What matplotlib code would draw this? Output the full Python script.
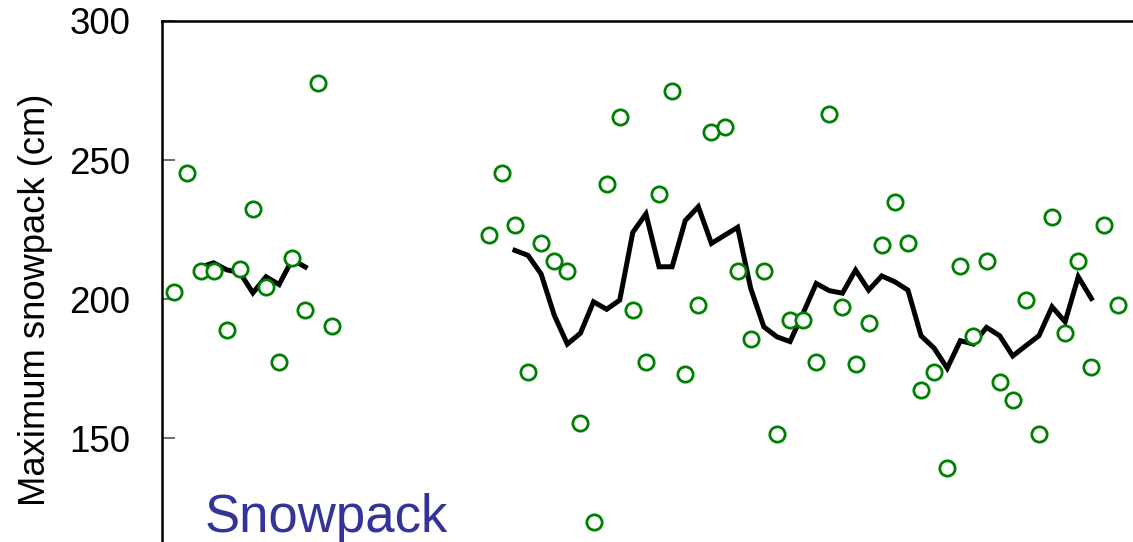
import matplotlib.pyplot as plt
import numpy as np

plt.rcParams['font.family'] = ['Liberation Sans', 'DejaVu Sans']

# Yearly maximum snowpack (cm), two observation periods
years_early = np.arange(1940, 1953)
snow_early = [202.6, 245.2, 210.1, 210.1, 188.8, 210.8, 232.3,
              204.5, 177.5, 214.6, 196.0, 277.8, 190.4]

years_late = np.arange(1964, 2013)
snow_late = [223.0, 245.2, 226.6, 173.7, 220.1, 213.8, 210.0, 155.3,
             119.8, 241.5, 265.6, 196.0, 177.4, 237.8, 274.9, 172.9,
             197.8, 260.1, 262.0, 210.0, 185.7, 210.0, 151.6, 192.4,
             192.4, 177.4, 266.7, 197.1, 176.6, 191.5, 219.3, 235.0,
             220.3, 167.3, 173.9, 139.3, 211.9, 186.8, 213.7, 170.1,
             163.7, 199.6, 151.4, 229.5, 187.7, 213.7, 175.6, 226.7,
             197.8]

# 5-year running mean (centred)
avg_years_early = years_early[2:-2]
avg_early = [211.5, 213.0, 210.5, 209.5, 202.2, 208.0, 205.2, 214.2, 211.5]

avg_years_late = years_late[2:-2]
avg_late = [217.5, 215.7, 209.0, 194.2, 183.8, 187.7, 199.0, 196.3, 199.6,
            224.0, 230.6, 211.6, 211.6, 228.2, 233.2, 220.0, 222.9, 225.8,
            203.8, 190.0, 186.4, 184.7, 194.9, 205.6, 203.0, 202.1, 210.4,
            203.2, 208.3, 206.2, 203.2, 186.8, 182.3, 175.1, 185.0, 183.8,
            189.8, 186.8, 179.5, 183.2, 186.8, 197.2, 191.8, 208.0, 200.2]

fig = plt.figure(figsize=(11.33, 5.42), dpi=100)
ax = fig.add_axes([162 / 1133, 0.0, 1 - 162 / 1133, 1 - 21 / 542])

for yrs, vals in [(avg_years_early, avg_early), (avg_years_late, avg_late)]:
    ax.plot(yrs, vals, color='black', lw=3.6, solid_joinstyle='miter', zorder=2)

for yrs, vals in [(years_early, snow_early), (years_late, snow_late)]:
    ax.plot(yrs, vals, 'o', ms=11, mfc='white', mec='green', mew=2.0,
            ls='none', zorder=3)

ax.set_xlim(1939.06, 2013.18)
ax.set_ylim(112.6, 300)
ax.set_yticks([150, 200, 250, 300])
ax.set_xticks([])
ax.tick_params(axis='y', direction='in', length=9, width=1.2, color='#555555',
               labelsize=26.5, pad=23)

ax.spines['right'].set_visible(False)
ax.spines['bottom'].set_visible(False)
ax.spines['left'].set_linewidth(1.8)
ax.spines['top'].set_linewidth(1.8)

fig.text(36 / 1133, 1 - 300 / 542, 'Maximum snowpack (cm)', rotation=90,
         ha='center', va='center', fontsize=26.2)

ax.text(0.044, 0.019, 'Snowpack', transform=ax.transAxes, fontsize=38,
        color='#333399', ha='left', va='baseline')

fig.savefig('out.png', dpi=100)
